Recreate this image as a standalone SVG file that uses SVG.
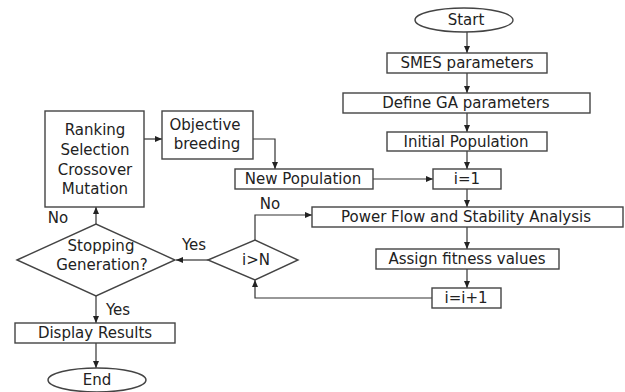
<svg xmlns="http://www.w3.org/2000/svg" width="625" height="392" viewBox="0 0 625 392">
<defs>
<marker id="ah" markerWidth="8" markerHeight="8" refX="7" refY="4" orient="auto" markerUnits="userSpaceOnUse">
<path d="M0,1 L7,4 L0,7 Z" fill="#222"/>
</marker>
<style>
.n{fill:#fff;stroke:#444;stroke-width:1.4}
.t{font-family:"DejaVu Sans","Liberation Sans",Arial,sans-serif;font-size:15px;fill:#222;text-anchor:middle;dominant-baseline:central}
.c{fill:none;stroke:#333;stroke-width:1.2;marker-end:url(#ah)}
.l{fill:none;stroke:#333;stroke-width:1.2}
</style>
</defs>
<rect width="625" height="392" fill="#fff"/>
<g id="connectors">
<line class="c" x1="467" y1="32" x2="467" y2="53"/>
<line class="c" x1="467" y1="73" x2="467" y2="93"/>
<line class="c" x1="467" y1="113" x2="467" y2="132"/>
<line class="c" x1="467" y1="151" x2="467" y2="169"/>
<line class="c" x1="467" y1="189" x2="467" y2="207"/>
<line class="c" x1="467" y1="227" x2="467" y2="249"/>
<line class="c" x1="467" y1="269" x2="467" y2="288"/>
<line class="c" x1="373" y1="179" x2="433" y2="179"/>
<line class="c" x1="144" y1="139" x2="162" y2="139"/>
<polyline class="c" points="253,139 275,139 275,169"/>
<polyline class="c" points="432,298 255,298 255,280"/>
<polyline class="c" points="255,240 255,215 312,215"/>
<line class="c" x1="208" y1="260" x2="176" y2="260"/>
<line class="c" x1="96" y1="224" x2="96" y2="207"/>
<line class="c" x1="96" y1="296" x2="96" y2="323"/>
<line class="c" x1="96" y1="343" x2="96" y2="368"/>
<text class="t" x="270" y="204">No</text>
<text class="t" x="194" y="245">Yes</text>
<text class="t" x="58" y="218">No</text>
<text class="t" x="118" y="310">Yes</text>
</g>
<g id="start"><ellipse class="n" cx="464" cy="20" rx="49" ry="12"/><text class="t" x="466" y="20">Start</text></g>
<g id="smes"><rect class="n" x="387" y="53" width="160" height="20"/><text class="t" x="467" y="63">SMES parameters</text></g>
<g id="definega"><rect class="n" x="343" y="93" width="247" height="20"/><text class="t" x="466" y="103">Define GA parameters</text></g>
<g id="initpop"><rect class="n" x="387" y="132" width="160" height="19"/><text class="t" x="466" y="142">Initial Population</text></g>
<g id="i1"><rect class="n" x="433" y="169" width="68" height="20"/><text class="t" x="467" y="179">i=1</text></g>
<g id="powerflow"><rect class="n" x="312" y="207" width="311" height="20"/><text class="t" x="466" y="217">Power Flow and Stability Analysis</text></g>
<g id="assign"><rect class="n" x="376" y="249" width="183" height="20"/><text class="t" x="467" y="259">Assign fitness values</text></g>
<g id="iinc"><rect class="n" x="432" y="288" width="69" height="20"/><text class="t" x="466" y="298">i=i+1</text></g>
<g id="newpop"><rect class="n" x="235" y="169" width="138" height="20"/><text class="t" x="303" y="179">New Population</text></g>
<g id="ranking"><rect class="n" x="45" y="111" width="99" height="96"/>
<text class="t" x="95" y="130">Ranking</text><text class="t" x="95" y="150">Selection</text><text class="t" x="95" y="170">Crossover</text><text class="t" x="95" y="189">Mutation</text></g>
<g id="objective"><rect class="n" x="162" y="111" width="91" height="48"/>
<text class="t" x="205" y="125">Objective</text><text class="t" x="207" y="144">breeding</text></g>
<g id="igtn"><polygon class="n" points="208,260 255,240 298,260 255,280"/><text class="t" x="256" y="260">i&gt;N</text></g>
<g id="stopping"><polygon class="n" points="17,260 96,224 175,260 96,296"/>
<text class="t" x="101" y="246">Stopping</text><text class="t" x="102" y="265">Generation?</text></g>
<g id="display"><rect class="n" x="15" y="323" width="160" height="20"/><text class="t" x="95" y="333">Display Results</text></g>
<g id="end"><ellipse class="n" cx="97" cy="380" rx="49" ry="12"/><text class="t" x="97" y="380">End</text></g>
</svg>
